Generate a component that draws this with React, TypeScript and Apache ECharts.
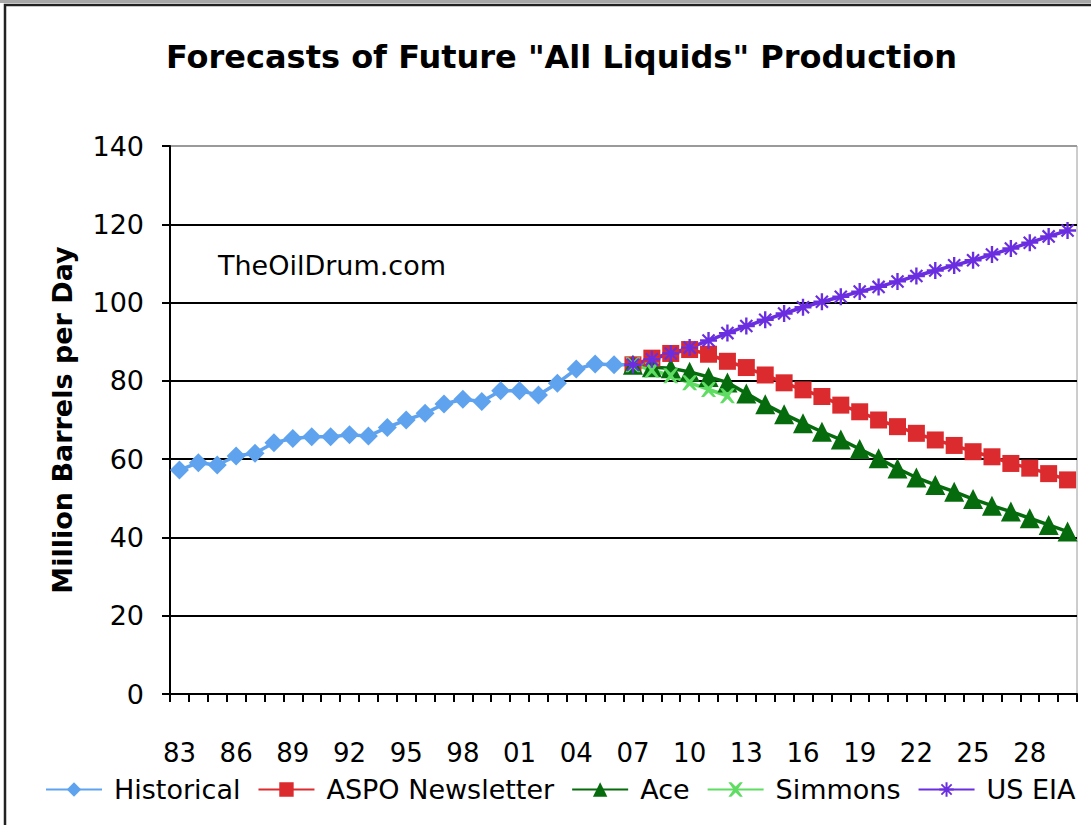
import React, { useEffect, useRef } from "react";
import * as echarts from "echarts";

const years = [
  "83", "84", "85", "86", "87", "88", "89", "90", "91", "92", "93", "94",
  "95", "96", "97", "98", "99", "00", "01", "02", "03", "04", "05", "06",
  "07", "08", "09", "10", "11", "12", "13", "14", "15", "16", "17", "18",
  "19", "20", "21", "22", "23", "24", "25", "26", "27", "28", "29", "30",
];

// 1983-2007
const historical = [
  57.2, 59.1, 58.5, 60.8, 61.5, 64.2, 65.3, 65.7, 65.7, 66.2, 65.9, 68.1,
  70.0, 71.7, 74.1, 75.3, 74.7, 77.5, 77.5, 76.4, 79.4, 83.0, 84.3, 84.1, 84.1,
];
// 2007-2030
const aspo = [
  84.1, 85.8, 87.0, 88.0, 86.8, 85.0, 83.4, 81.5, 79.5, 77.7, 76.0, 73.8,
  72.1, 70.0, 68.3, 66.6, 64.9, 63.5, 61.9, 60.6, 58.9, 57.7, 56.3, 54.7,
];
const ace = [
  84.1, 83.5, 83.2, 82.3, 81.0, 79.6, 76.8, 74.0, 71.5, 69.2, 67.0, 65.0,
  62.6, 60.2, 57.6, 55.3, 53.4, 51.7, 49.8, 48.1, 46.6, 44.9, 43.2, 41.5,
];
// 2007-2012
const simmons = [84.1, 82.8, 81.3, 79.5, 77.8, 76.2];
const usEia = [
  84.1, 85.5, 87.0, 88.5, 90.3, 92.2, 94.0, 95.6, 97.2, 98.8, 100.2, 101.5,
  102.8, 104.0, 105.4, 106.8, 108.2, 109.5, 110.8, 112.3, 113.8, 115.3, 116.9, 118.4,
];
const yTicks = [0, 20, 40, 60, 80, 100, 120, 140];

const FORECAST_START = years.indexOf("07");

function place(values: number[], start: number): (number | null)[] {
  const out: (number | null)[] = years.map(() => null);
  values.forEach((v, i) => {
    out[start + i] = v;
  });
  return out;
}

const CROSS = "path://M0,0 L2,0 L5,3 L8,0 L10,0 L6.4,5 L10,10 L8,10 L5,7 L2,10 L0,10 L3.6,5 Z";
const STAR =
  "path://M4.3,0 H5.7 V10 H4.3 Z M0,4.3 H10 V5.7 H0 Z M1,1.9 L1.9,1 L9,8.1 L8.1,9 Z M8.1,1 L9,1.9 L1.9,9 L1,8.1 Z";

const FONT = "DejaVu Sans";

export default function App() {
  const ref = useRef<HTMLDivElement>(null);
  useEffect(() => {
    if (!ref.current) return;
    const chart = echarts.init(ref.current, undefined, { renderer: "svg" });
    const mk = (
      name: string,
      data: (number | null)[],
      color: string,
      symbol: string,
      size: number
    ) => ({
      name,
      type: "line",
      data,
      symbol,
      symbolSize: size,
      showAllSymbol: true,
      connectNulls: false,
      lineStyle: { color, width: 3.5 },
      itemStyle: { color },
      emphasis: { disabled: true },
    });
    chart.setOption({
      animation: false,
      backgroundColor: "#ffffff",
      title: {
        text: 'Forecasts of Future "All Liquids" Production',
        left: 161,
        top: 36,
        textStyle: {
          fontFamily: FONT,
          fontWeight: "bold",
          fontSize: 32,
          color: "#000",
        },
      },
      grid: {
        left: 170,
        right: 14,
        top: 146,
        bottom: 131,
        show: true,
        borderColor: "#9a9a9a",
        borderWidth: 1,
        backgroundColor: "transparent",
      },
      legend: {
        top: 771,
        left: 40,
        itemWidth: 56,
        itemHeight: 18,
        itemGap: 17,
        textStyle: {
          fontFamily: FONT,
          fontSize: 27,
          color: "#000",
          padding: [0, 0, 0, 7],
        },
        data: ["Historical", "ASPO Newsletter", "Ace", "Simmons", "US EIA"],
      },
      xAxis: {
        type: "category",
        data: years,
        boundaryGap: true,
        axisLine: { lineStyle: { color: "#000", width: 2 } },
        axisTick: {
          show: true,
          interval: 0,
          length: 8,
          lineStyle: { color: "#000", width: 2 },
        },
        axisLabel: {
          interval: 2,
          margin: 46,
          fontFamily: FONT,
          fontSize: 26,
          color: "#000",
        },
        splitLine: { show: false },
      },
      yAxis: {
        type: "value",
        min: yTicks[0],
        max: yTicks[yTicks.length - 1],
        interval: 20,
        name: "Million Barrels per Day",
        nameLocation: "middle",
        nameGap: 94,
        nameTextStyle: {
          fontFamily: FONT,
          fontWeight: "bold",
          fontSize: 27,
          color: "#000",
        },
        axisLine: { show: true, lineStyle: { color: "#000", width: 2 } },
        axisTick: { show: true, length: 8, lineStyle: { color: "#000", width: 2 } },
        axisLabel: {
          margin: 26,
          fontFamily: FONT,
          fontSize: 27,
          color: "#000",
        },
        splitLine: {
          show: true,
          lineStyle: {
            color: ["#000", "#000", "#000", "#000", "#000", "#000", "#000", "#9a9a9a"],
            width: 2,
          },
        },
      },
      graphic: [
        {
          type: "rect",
          shape: { x: 0, y: 0, width: 1091, height: 3 },
          style: { fill: "#a8a8a8" },
        },
        {
          type: "rect",
          shape: { x: 5, y: 5, width: 1200, height: 900 },
          style: { fill: "none", stroke: "#222", lineWidth: 2.5 },
          silent: true,
        },
        {
          type: "text",
          left: 218,
          top: 252,
          style: {
            text: "TheOilDrum.com",
            fontFamily: FONT,
            fontSize: 27,
            fill: "#000",
          },
        },
      ],
      series: [
        mk("Historical", place(historical, 0), "#5fa3ef", "diamond", 19),
        mk("ASPO Newsletter", place(aspo, FORECAST_START), "#dc2b2f", "rect", 17),
        mk("Ace", place(ace, FORECAST_START), "#066b0c", "triangle", 20),
        mk("Simmons", place(simmons, FORECAST_START), "#5fdc62", CROSS, 15),
        mk("US EIA", place(usEia, FORECAST_START), "#6a2ee0", STAR, 17),
      ],
    });
    return () => chart.dispose();
  }, []);
  return (
    <div
      ref={ref}
      style={{ position: "absolute", left: 0, top: 0, width: 1091, height: 825 }}
    />
  );
}
